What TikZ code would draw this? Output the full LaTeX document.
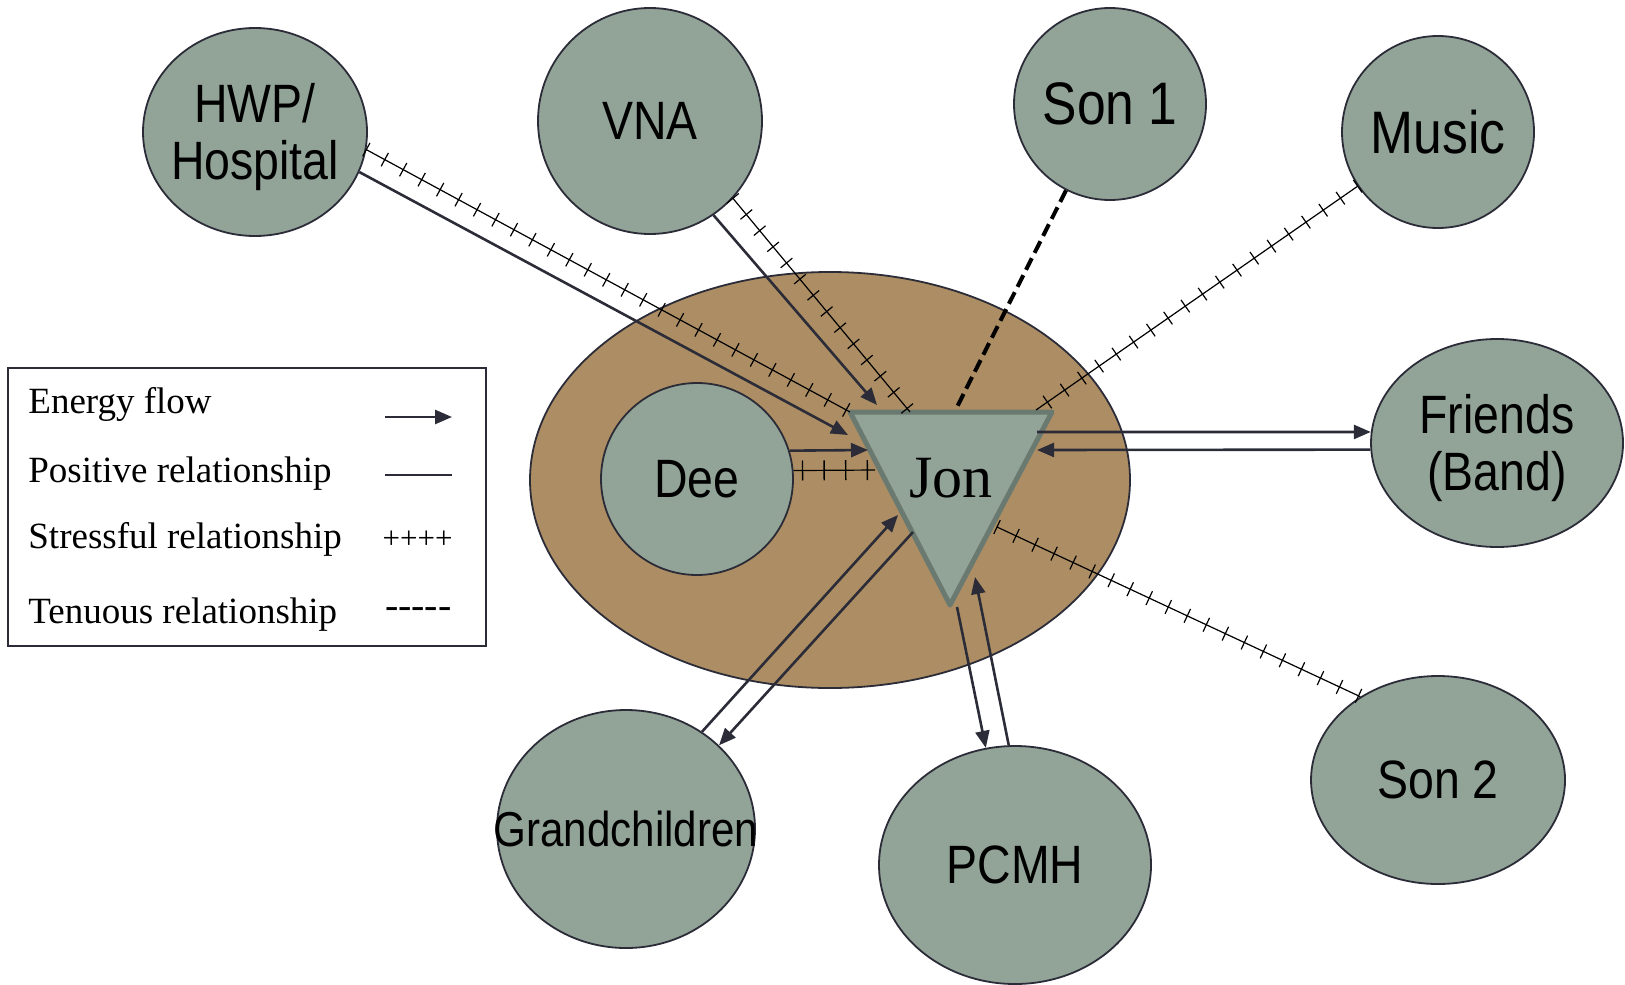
\documentclass[tikz,border=0pt]{standalone}
\usepackage{fontspec}
\setmainfont{Liberation Serif}
\newfontfamily\labelfont[FakeStretch=0.86]{Liberation Sans}
\usetikzlibrary{shapes.geometric, arrows.meta, decorations.markings, calc}

\definecolor{nodegreen}{RGB}{146,163,152}
\definecolor{homebrown}{RGB}{173,142,100}
\definecolor{edgegray}{RGB}{43,44,56}
\definecolor{jonedge}{RGB}{107,122,112}

\tikzset{
  person/.style={ellipse, draw=edgegray, line width=0.9pt, fill=nodegreen, inner sep=0pt},
  every label/.style={font=\labelfont\fontsize{27}{28.5}\selectfont, align=center, inner sep=0pt},
  biglabel/.style={font=\labelfont\fontsize{30}{32}\selectfont},
  twolines/.style={yshift=-2.5pt},
  flow/.style={draw=edgegray, line width=1.3pt, -{Triangle[length=8.5pt, width=7pt]}},
  tenuous/.style={line width=2pt, dash pattern=on 6.5pt off 3pt},
  stress/.style={line width=0.6pt, postaction={decorate},
    decoration={markings, mark=between positions 0 and 1 step 10.5pt with {\draw [line width=0.6pt] (0,-3.8pt) -- (0,3.8pt);}}},
  deestress/.style={line width=0.6pt, postaction={decorate},
    decoration={markings, mark=between positions 4.5pt and 1 step 10.8pt with {\draw [line width=0.7pt] (0,-5pt) -- (0,5pt);}}},
  legendtext/.style={font=\fontsize{18.5}{22}\selectfont, anchor=base west, inner sep=0pt}
}

\begin{document}
\begin{tikzpicture}[x=0.5pt, y=-0.5pt]

\useasboundingbox ( 0, 0 ) rectangle ( 1625, 984 );

% Household
\node (home) at ( 830, 480 ) [ellipse, draw=edgegray, line width=0.9pt, fill=homebrown, minimum width=300pt, minimum height=208pt] {};
\node (dee) at ( 697, 479 ) [person, minimum width=96pt, minimum height=96pt, label=center:Dee] {};

% Jon
\coordinate (jonL) at ( 850, 412 );
\coordinate (jonR) at ( 1052, 412 );
\coordinate (jonB) at ( 950, 605 );
\filldraw [fill=nodegreen, draw=jonedge, line width=2.5pt, line join=round] (jonL) -- (jonR) -- (jonB) -- cycle;
\node (jon) at ( 951, 478 ) [font=\fontsize{30}{36}\selectfont] {Jon};

% Outer circles
\node (hwp) at ( 255, 132 ) [person, minimum width=112pt, minimum height=104pt, label={[twolines]center:{HWP/\\Hospital}}] {};
\node (vna) at ( 650, 121 ) [person, minimum width=112pt, minimum height=113pt, label=center:VNA] {};
\node (son1) at ( 1110, 104 ) [person, minimum width=96pt, minimum height=96pt, label={[biglabel]center:Son 1}] {};
\node (music) at ( 1438, 132 ) [person, minimum width=96pt, minimum height=96pt, label={[biglabel]center:Music}] {};
\node (friends) at ( 1497, 443 ) [person, minimum width=126pt, minimum height=104pt, label={[twolines]center:{Friends\\(Band)}}] {};
\node (son2) at ( 1438, 780 ) [person, minimum width=127pt, minimum height=104pt, label=center:Son 2] {};
\node (pcmh) at ( 1015, 865 ) [person, minimum width=136pt, minimum height=119pt, label=center:PCMH] {};
\node (grand) at ( 626, 829 ) [person, minimum width=129pt, minimum height=119pt,
  label={[font=\labelfont\fontsize{24.5}{28}\selectfont]center:Grandchildren}] {};

% Relationships
\draw [stress] (hwp.-9) -- (jonL);
\draw [flow] (hwp.-21) -- ($(jonL)+(-2,23)$);

\draw [flow] (vna.-56) -- ($(jonL)+(27,-7)$);
\draw [stress] (vna.-43) -- ($(jonL)+(60,0)$);

\draw [tenuous] (son1.-117) -- ($(jonL)+(107,-5)$);

\draw [stress] (music.214) -- ($(jonR)+(-16,-2)$);

\draw [flow] ($(jonR)+(-15,20)$) -- (friends.175);
\draw [flow] (friends.183) -- ($(jonR)+(-15,38)$);

\draw [stress] ($(jonR)+(-55,115)$) -- (son2.133);

\draw [flow] ($(jonB)+(7,2)$) -- (pcmh.104);
\draw [flow] (pcmh.93) -- ($(jonB)+(25,-28)$);

\draw [flow] (grand.52) -- ($(jonB)+(-52,-90)$);
\draw [flow] ($(jonB)+(-37,-73)$) -- (grand.42);

\draw [flow] (dee.17) -- ($(jonL)+(18,38)$);
\draw [deestress] (dee.5) -- ($(jonL)+(25,58)$);

% Legend
\draw [edgegray, line width=0.75pt] ( 8, 368 ) rectangle ( 486, 646 );
\node (lflow) at ( 28, 413 ) [legendtext] {Energy flow};
\node (lpos) at ( 28, 482 ) [legendtext] {Positive relationship};
\node (lstress) at ( 28, 548 ) [legendtext] {Stressful relationship};
\node (lten) at ( 28, 623 ) [legendtext] {Tenuous relationship};

\draw [flow] ( 385, 417 ) -- ++( 67, 0 );
\draw [edgegray, line width=0.75pt] ( 385, 475 ) -- ++( 67, 0 );
\node (lplus) at ( 453, 540 ) [anchor=east, inner sep=0pt, font=\fontsize{15.5}{18}\selectfont] {++++};
\node (ldash) at ( 452, 613 ) [anchor=east, inner sep=0pt, font=\fontsize{20}{22}\selectfont] {-{}-{}-{}-{}-};

\end{tikzpicture}
\end{document}
